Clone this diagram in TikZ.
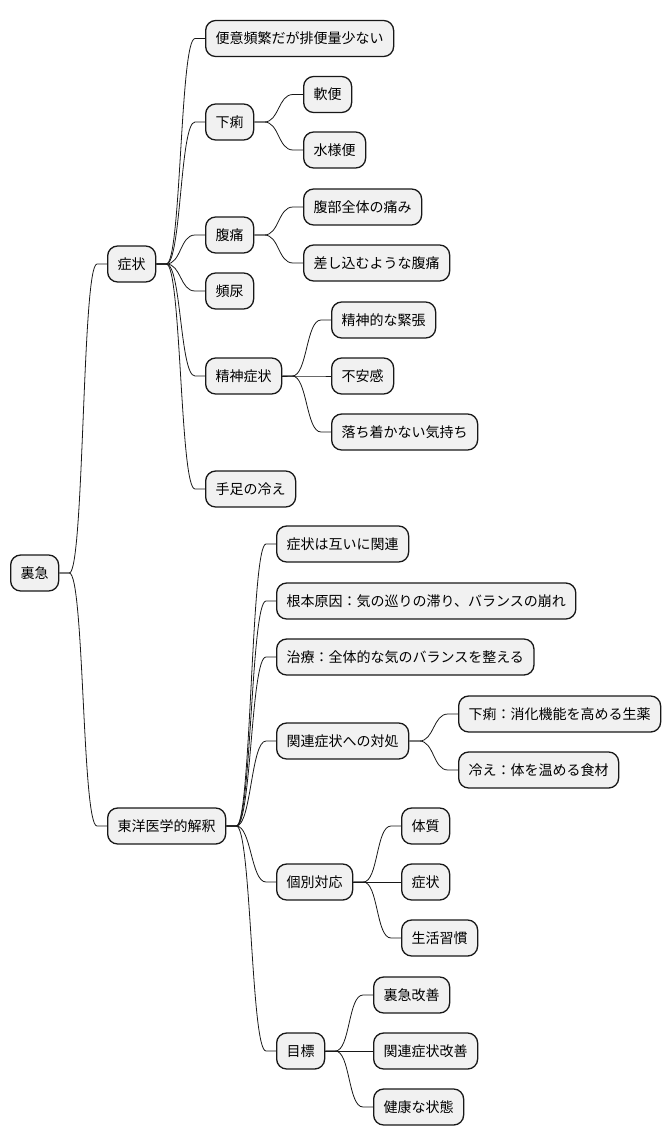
\documentclass[tikz,border=0pt]{standalone}
\usepackage{fontspec}
\setmainfont{Noto Sans CJK JP}
\usetikzlibrary{calc}

\definecolor{boxfill}{HTML}{F1F1F1}
\definecolor{boxline}{HTML}{181818}

\tikzset{
    topic/.style={draw=boxline, fill=boxfill, line width=1.3pt, rounded corners=10pt,
        anchor=west, minimum height=36pt, inner xsep=10pt, inner ysep=0pt,
        font=\fontsize{14}{16}\selectfont},
    branch/.style={draw=boxline, line width=0.8pt}
}

\begin{document}
\begin{tikzpicture}[x=1pt, y=-1pt]
    \useasboundingbox (0,0) rectangle (670,1146);

    % root and main branches
    \node[topic] (root) at (10,573) {裏急};
    \node[topic] (sym) at (107,264) {症状};
    \node[topic] (tcm) at (107,826) {東洋医学的解釈};

    % symptoms
    \node[topic] (s1) at (205,38.5) {便意頻繁だが排便量少ない};
    \node[topic] (s2) at (205,122) {下痢};
    \node[topic] (s3) at (205,235) {腹痛};
    \node[topic] (s4) at (205,291) {頻尿};
    \node[topic] (s5) at (205,376) {精神症状};
    \node[topic] (s6) at (205,489) {手足の冷え};

    \node[topic] (s21) at (303,94.5) {軟便};
    \node[topic] (s22) at (303,150) {水様便};
    \node[topic] (s31) at (303,207) {腹部全体の痛み};
    \node[topic] (s32) at (303,263) {差し込むような腹痛};
    \node[topic] (s51) at (331,320) {精神的な緊張};
    \node[topic] (s52) at (331,376) {不安感};
    \node[topic] (s53) at (331,432) {落ち着かない気持ち};

    % eastern medicine view
    \node[topic] (t1) at (276,544) {症状は互いに関連};
    \node[topic] (t2) at (276,601) {根本原因：気の巡りの滞り、バランスの崩れ};
    \node[topic] (t3) at (276,657) {治療：全体的な気のバランスを整える};
    \node[topic] (t4) at (276,741) {関連症状への対処};
    \node[topic] (t5) at (276,882) {個別対応};
    \node[topic] (t6) at (276,1051) {目標};

    \node[topic] (t41) at (458,714) {下痢：消化機能を高める生薬};
    \node[topic] (t42) at (458,770) {冷え：体を温める食材};
    \node[topic] (t51) at (401,826) {体質};
    \node[topic] (t52) at (401,882) {症状};
    \node[topic] (t53) at (401,938) {生活習慣};
    \node[topic] (t61) at (373,995) {裏急改善};
    \node[topic] (t62) at (373,1051) {関連症状改善};
    \node[topic] (t63) at (373,1107) {健康な状態};

    % connectors
    \foreach \p/\c in {root/sym, root/tcm,
        sym/s1, sym/s2, sym/s3, sym/s4, sym/s5, sym/s6,
        s2/s21, s2/s22, s3/s31, s3/s32, s5/s51, s5/s52, s5/s53,
        tcm/t1, tcm/t2, tcm/t3, tcm/t4, tcm/t5, tcm/t6,
        t4/t41, t4/t42, t5/t51, t5/t52, t5/t53, t6/t61, t6/t62, t6/t63}
        \draw[branch] (\p.east) -- ++(10,0) .. controls +(15,0) and +(-15,0) ..
            ([xshift=-10pt]\c.west) -- (\c.west);
\end{tikzpicture}
\end{document}
